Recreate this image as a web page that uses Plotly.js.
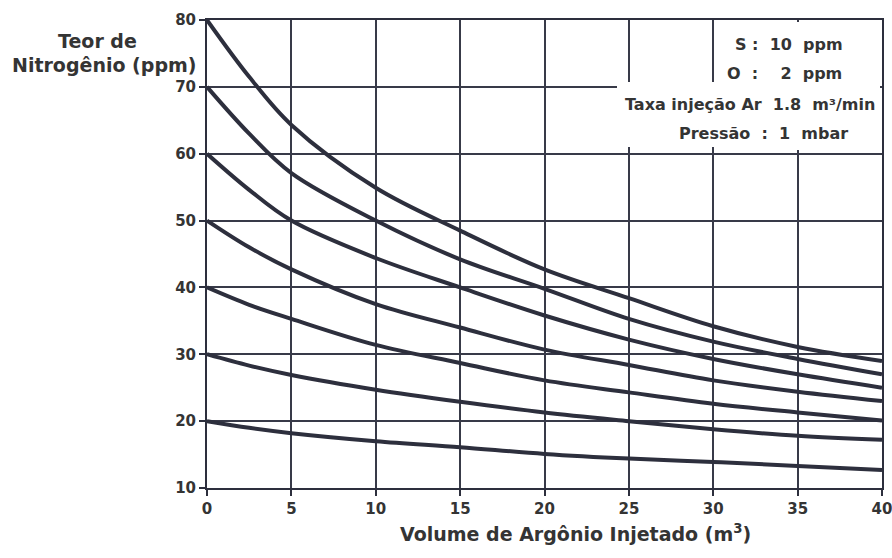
<!DOCTYPE html>
<html>
<head>
<meta charset="utf-8">
<script src="https://cdn.plot.ly/plotly-3.0.1.min.js"></script>
<style>
  html, body { margin: 0; padding: 0; background: #ffffff; }
  #chart { width: 892px; height: 558px; }
</style>
</head>
<body>
<div id="chart"></div>
<script>
// Volume of argon injected (m³)
const volume = [0, 2.5, 5, 10, 15, 20, 25, 30, 35, 40];

// Nitrogen content (ppm) for each starting level
const n80 = [80, 71.5, 64.3, 54.9, 48.5, 42.7, 38.4, 34.2, 31.1, 29.0];
const n70 = [70, 63.0, 57.1, 50.0, 44.2, 39.8, 35.3, 31.9, 29.3, 27.0];
const n60 = [60, 54.6, 50.0, 44.4, 40.0, 35.8, 32.2, 29.3, 27.0, 25.0];
const n50 = [50, 46.0, 42.7, 37.5, 34.0, 30.7, 28.4, 26.1, 24.4, 23.0];
const n40 = [40, 37.4, 35.3, 31.4, 28.7, 26.1, 24.3, 22.6, 21.3, 20.1];
const n30 = [30, 28.3, 26.9, 24.7, 22.9, 21.3, 20.0, 18.8, 17.8, 17.2];
const n20 = [20, 19.0, 18.2, 17.0, 16.1, 15.1, 14.4, 13.9, 13.3, 12.7];

const xTicks = [0, 5, 10, 15, 20, 25, 30, 35, 40];
const yTicks = [10, 20, 30, 40, 50, 60, 70, 80];

// Process conditions printed in the corner box
const NB = '\u00a0';
const conditions = [
  'S' + NB + ':' + NB + NB + '10' + NB + NB + 'ppm',
  'O' + NB + NB + ':' + NB + NB + NB + NB + '2' + NB + NB + 'ppm',
  'Taxa injeção Ar' + NB + NB + '1.8' + NB + NB + 'm³/min',
  'Pressão' + NB + NB + ':' + NB + NB + '1' + NB + NB + 'mbar'
];

const ink = '#2d2f3d';
const gridInk = '#383a48';
const textInk = '#343434';
const FONT = 'DejaVu Sans, Liberation Sans, Arial, sans-serif';

const series = [n80, n70, n60, n50, n40, n30, n20];
const traces = series.map(function (ys) {
  return {
    x: volume,
    y: ys,
    type: 'scatter',
    mode: 'lines',
    line: { color: ink, width: 4, shape: 'spline', smoothing: 1 },
    hoverinfo: 'x+y',
    showlegend: false
  };
});

// plot area geometry (px) used to place the labels around it
const L = 207, T = 20, W = 675, H = 468;
const px = function (x) { return (x - L) / W; };
const py = function (y) { return 1 - (y - T) / H; };

const axisCommon = {
  showgrid: true,
  gridcolor: gridInk,
  gridwidth: 2,
  zeroline: false,
  showline: true,
  linecolor: ink,
  linewidth: 2,
  mirror: true,
  ticks: 'outside',
  ticklen: 6,
  tickwidth: 2,
  tickcolor: ink,
  ticklabeloverflow: 'allow',
  tickfont: { family: FONT, size: 15, color: textInk, weight: 'bold' },
  fixedrange: true
};

const boxFont = { family: FONT, size: 16, color: textInk, weight: 'bold' };
const titleFont = { family: FONT, size: 19, color: textInk, weight: 'bold' };

const layout = {
  width: 892,
  height: 558,
  margin: { l: L, r: 892 - L - W, t: T, b: 558 - T - H },
  paper_bgcolor: '#ffffff',
  plot_bgcolor: '#ffffff',
  showlegend: false,
  xaxis: Object.assign({}, axisCommon, {
    range: [0, 40],
    tickvals: xTicks,
    ticktext: xTicks.map(String)
  }),
  yaxis: Object.assign({}, axisCommon, {
    range: [10, 80],
    tickvals: yTicks,
    ticktext: yTicks.map(String)
  }),
  shapes: [
    // white backing for the conditions box (hides the grid beneath it)
    { type: 'rect', xref: 'paper', yref: 'paper', layer: 'above',
      x0: px(715.5), x1: px(880), y0: py(150), y1: py(22),
      fillcolor: '#ffffff', line: { width: 0 } },
    { type: 'rect', xref: 'paper', yref: 'paper', layer: 'above',
      x0: px(617), x1: px(716), y0: py(147), y1: py(82),
      fillcolor: '#ffffff', line: { width: 0 } }
  ],
  annotations: [
    { text: 'Teor de', xref: 'paper', yref: 'paper', x: px(97.5), y: py(41),
      xanchor: 'center', yanchor: 'middle', showarrow: false, font: titleFont },
    { text: 'Nitrogênio (ppm)', xref: 'paper', yref: 'paper', x: px(103.5), y: py(65),
      xanchor: 'center', yanchor: 'middle', showarrow: false, font: titleFont },
    { text: 'Volume de Argônio Injetado (m<sup>3</sup>)', xref: 'paper', yref: 'paper',
      x: px(575), y: py(533), xanchor: 'center', yanchor: 'middle', showarrow: false,
      font: titleFont },
    { text: conditions[0], xref: 'paper', yref: 'paper', x: px(733), y: py(44),
      xanchor: 'left', yanchor: 'middle', showarrow: false, font: boxFont },
    { text: conditions[1], xref: 'paper', yref: 'paper', x: px(725), y: py(73),
      xanchor: 'left', yanchor: 'middle', showarrow: false, font: boxFont },
    { text: conditions[2], xref: 'paper', yref: 'paper', x: px(623), y: py(104),
      xanchor: 'left', yanchor: 'middle', showarrow: false, font: boxFont },
    { text: conditions[3], xref: 'paper', yref: 'paper', x: px(677), y: py(133),
      xanchor: 'left', yanchor: 'middle', showarrow: false, font: boxFont }
  ]
};

Plotly.newPlot('chart', traces, layout, { displayModeBar: false, staticPlot: true });
</script>
</body>
</html>
